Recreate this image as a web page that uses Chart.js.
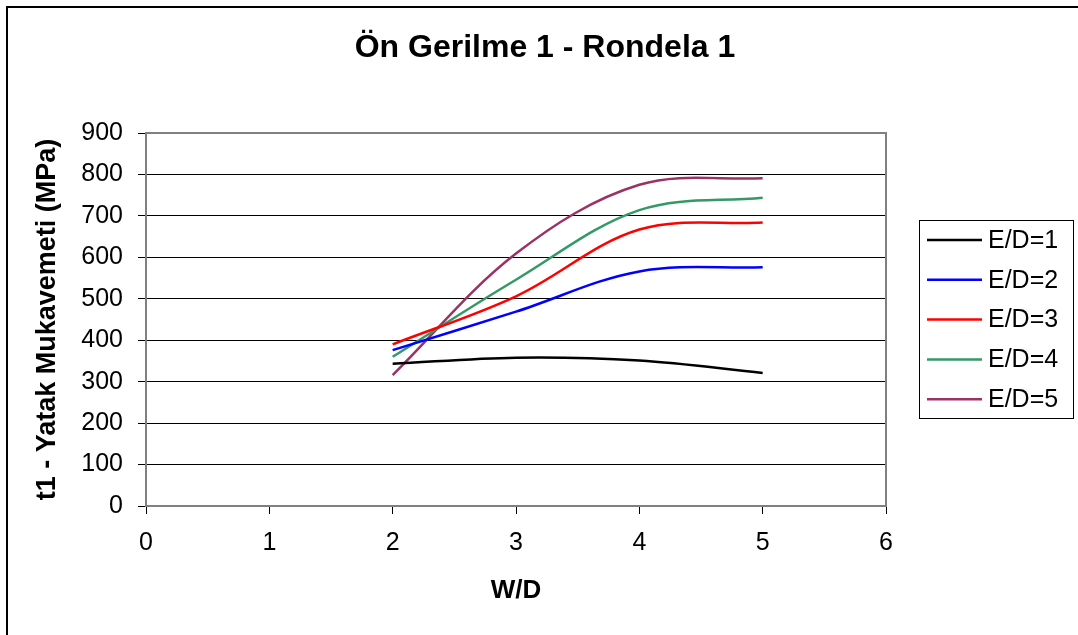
<!DOCTYPE html>
<html>
<head>
<meta charset="utf-8">
<title>Ön Gerilme 1 - Rondela 1</title>
<script src="https://cdn.jsdelivr.net/npm/chart.js@4/dist/chart.umd.min.js"></script>
<style>
    html, body { margin: 0; padding: 0; background: #ffffff; }
    #wrap { width: 1078px; height: 635px; position: relative; }
</style>
</head>
<body>
<div id="wrap"><canvas id="rondelaChart" width="1078" height="635"></canvas></div>
<script>
// W/D values (x) and strength per E/D series (MPa)
var wdValues = [2, 3, 4, 5];
var seriesNames = ['E/D=1', 'E/D=2', 'E/D=3', 'E/D=4', 'E/D=5'];
var ed1 = [343, 358, 351, 321];
var ed2 = [376, 469, 566, 576];
var ed3 = [390, 506, 667, 684];
var ed4 = [360, 546, 714, 744];
var ed5 = [316, 609, 775, 791];
var xTicks = [0, 1, 2, 3, 4, 5, 6];
var yTicks = [0, 100, 200, 300, 400, 500, 600, 700, 800, 900];
var chartTitle = 'Ön Gerilme 1 - Rondela 1';

var seriesValues = [ed1, ed2, ed3, ed4, ed5];
var seriesColors = ['#000000', '#0000ff', '#ff0000', '#339966', '#993366'];

var FONT = "'Liberation Sans', Arial, sans-serif";

function toPoints(values) {
    return values.map(function(v, i) { return {x: wdValues[i], y: v}; });
}

var datasets = seriesNames.map(function(name, i) {
    return {
        label: name,
        data: toPoints(seriesValues[i]),
        borderColor: seriesColors[i],
        backgroundColor: seriesColors[i],
        borderWidth: 2.5,
        tension: 0.35,
        pointRadius: 0,
        fill: false
    };
});

// frame, title, plot border and legend box (Excel style)
var excelFrame = {
    id: 'excelFrame',
    beforeDraw: function(chart) {
        var ctx = chart.ctx;
        ctx.save();
        ctx.fillStyle = '#ffffff';
        ctx.fillRect(0, 0, chart.width, chart.height);
        ctx.strokeStyle = '#000000';
        ctx.lineWidth = 2;
        ctx.strokeRect(7, 7, chart.width + 20, chart.height + 20);
        // title is centred on the whole frame, not the plot
        ctx.fillStyle = '#000000';
        ctx.font = 'bold 32px ' + FONT;
        ctx.textAlign = 'center';
        ctx.textBaseline = 'middle';
        ctx.fillText(chartTitle, 545, 48);
        ctx.restore();
    },
    afterDatasetsDraw: function(chart) {
        var ctx = chart.ctx;
        var a = chart.chartArea;
        ctx.save();
        ctx.strokeStyle = '#808080';
        ctx.lineWidth = 2;
        ctx.strokeRect(a.left, a.top, a.right - a.left, a.bottom - a.top);
        ctx.restore();
    },
    afterDraw: function(chart) {
        var ctx = chart.ctx;
        ctx.save();
        ctx.strokeStyle = '#000000';
        ctx.lineWidth = 1;
        ctx.strokeRect(919.5, 220.5, 154, 198);
        ctx.font = '25px ' + FONT;
        ctx.textBaseline = 'middle';
        ctx.textAlign = 'left';
        chart.data.datasets.forEach(function(ds, i) {
            var y = 240 + i * 39.8;
            ctx.strokeStyle = ds.borderColor;
            ctx.lineWidth = 2.5;
            ctx.beginPath();
            ctx.moveTo(927, y);
            ctx.lineTo(982, y);
            ctx.stroke();
            ctx.fillStyle = '#000000';
            ctx.fillText(ds.label, 988, y + 1);
        });
        ctx.restore();
    }
};

var chart = new Chart(document.getElementById('rondelaChart'), {
    type: 'line',
    data: { datasets: datasets },
    plugins: [excelFrame],
    options: {
        responsive: false,
        animation: false,
        layout: { padding: { left: 0, right: 192, top: 133, bottom: 0 } },
        plugins: {
            legend: { display: false },
            tooltip: { enabled: false },
            title: { display: false }
        },
        scales: {
            x: {
                type: 'linear',
                min: 0,
                max: 6,
                afterFit: function(scale) { scale.height = 129; },
                afterBuildTicks: function(scale) {
                    scale.ticks = xTicks.map(function(v) { return {value: v}; });
                },
                border: { display: false },
                grid: {
                    drawOnChartArea: false,
                    drawTicks: true,
                    tickLength: 8,
                    color: '#000000'
                },
                ticks: {
                    color: '#000000',
                    padding: 14,
                    maxRotation: 0,
                    font: { family: FONT, size: 25 }
                },
                title: {
                    display: true,
                    text: 'W/D',
                    color: '#000000',
                    font: { family: FONT, size: 26, weight: 'bold' },
                    padding: { top: 0, bottom: 29 }
                }
            },
            y: {
                min: 0,
                max: 900,
                afterFit: function(scale) { scale.width = 146; },
                afterBuildTicks: function(scale) {
                    scale.ticks = yTicks.map(function(v) { return {value: v}; });
                },
                border: { display: false },
                grid: {
                    drawTicks: true,
                    tickLength: 8,
                    color: '#000000',
                    lineWidth: 1
                },
                ticks: {
                    color: '#000000',
                    padding: 15,
                    font: { family: FONT, size: 25 }
                },
                title: {
                    display: true,
                    text: 't1 - Yatak Mukavemeti (MPa)',
                    color: '#000000',
                    font: { family: FONT, size: 27, weight: 'bold' },
                    padding: { top: 31, bottom: 0 }
                }
            }
        }
    }
});
</script>
</body>
</html>
